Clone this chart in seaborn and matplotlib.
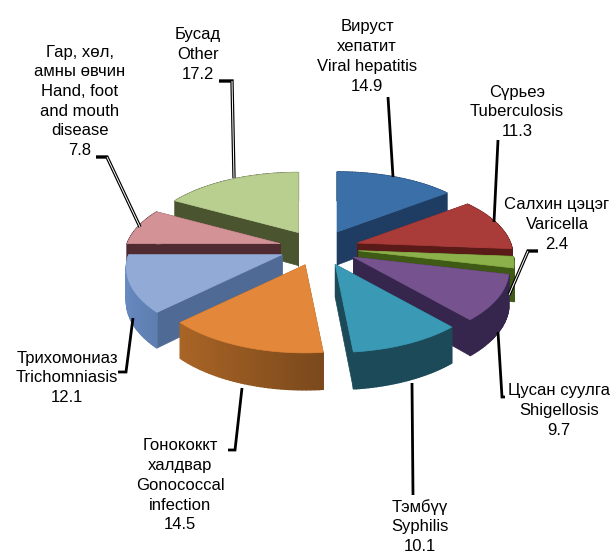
import numpy as np
import matplotlib
matplotlib.use("Agg")
import matplotlib.pyplot as plt
import seaborn as sns

# share of each disease, clockwise from 12 o'clock
labels = [
    ["Вируст", "хепатит", "Viral hepatitis"],
    ["Сүрьеэ", "Tuberculosis"],
    ["Салхин цэцэг", "Varicella"],
    ["Цусан суулга", "Shigellosis"],
    ["Тэмбүү", "Syphilis"],
    ["Гонококкт", "халдвар", "Gonococcal", "infection"],
    ["Трихомониаз", "Trichomniasis"],
    ["Гар, хөл,", "амны өвчин", "Hand, foot", "and mouth", "disease"],
    ["Бусад", "Other"],
]
values = [14.9, 11.3, 2.4, 9.7, 10.1, 14.5, 12.1, 7.8, 17.2]

top_colors = ["#3a6fa8", "#a93b39", "#8cb04a", "#76528f", "#3a9ab6",
              "#e3873a", "#92abd6", "#d39296", "#b9cf90"]
wall_colors = ["#1f3d63", "#5a1a18", "#3f5a14", "#36264d", "#1c4a58",
               "#8f5520", "#4f6a94", "#4f2a30", "#4a5530"]

sns.set_theme(style="white")
plt.rcParams["font.family"] = ["Liberation Sans", "DejaVu Sans"]
palette = sns.color_palette(top_colors)
walls = sns.color_palette(wall_colors)

# layout, in pixels of the output
cx, cy = 319, 248
line_step = 19.7
label_pos = [(367, 27), (517, 92), (557, 205), (559, 391), (420, 507),
             (180, 446), (67, 358), (80, 52), (198, 35)]
leaders = [
    ([388, 393], [97, 177], False),
    ([498, 494], [140, 222], False),
    ([538, 528, 509], [251, 251, 295], True),
    ([498, 502, 505], [332, 397, 397], False),
    ([412, 413], [383, 495], False),
    ([242, 235, 228], [388, 450, 450], False),
    ([133, 126, 118], [318, 372, 372], False),
    ([96, 107, 140], [157, 157, 227], True),
    ([219, 232, 234], [81, 81, 178], True),
]


def project(theta):
    # ellipse with a little perspective, front of the pie is larger
    c, s = np.cos(theta), np.sin(theta)
    return s * (153 - 28 * c), -c * (74 - 14 * c)


def shade(color, factor):
    return tuple(min(1, v * factor) for v in color)


fig, ax = plt.subplots(figsize=(6.16, 5.53), dpi=100)
ax.set_xlim(0, 616)
ax.set_ylim(553, 0)
ax.axis("off")
fig.subplots_adjust(0, 0, 1, 1)

edges = np.radians(np.concatenate([[0], np.cumsum(values)]) * 3.6)
mids = (edges[:-1] + edges[1:]) / 2

# back slices first so the front ones sit on top of their walls
for i in np.argsort(-np.cos(mids)):
    ax0 = cx + 40 * np.sin(mids[i])
    ay0 = cy - 18 * np.cos(mids[i])
    th = np.linspace(edges[i], edges[i + 1], 40)
    px, py = project(th)
    px, py = ax0 + px, ay0 + py
    depth = 33 - 4 * np.cos(th)

    # the two cut faces
    for k in (0, -1):
        ax.fill([ax0, px[k], px[k], ax0],
                [ay0, py[k], py[k] + depth[k], ay0 + 33],
                color=walls[i], lw=0.5, zorder=2)

    # rim, only orange and blue pick up light from the left
    for j in range(len(th) - 1):
        light = 0.9 - 0.4 * np.sin(th[j]) if i in (5, 6) else 1.0
        c = shade(walls[i], light)
        ax.fill([px[j], px[j + 1], px[j + 1], px[j]],
                [py[j], py[j + 1], py[j + 1] + depth[j + 1], py[j] + depth[j]],
                color=c, ec=c, lw=1, zorder=2)

    ax.fill(np.r_[ax0, px], np.r_[ay0, py], color=palette[i], lw=0.5, zorder=2)

for (lx, ly), lines, val in zip(label_pos, labels, values):
    for n, line in enumerate(lines + [f"{val}"]):
        ax.text(lx, ly + n * line_step, line, ha="center", va="center",
                fontsize=12, color="black", zorder=5)

for xs, ys, double in leaders:
    ax.plot(xs, ys, color="black", lw=2.0 if not double else 2.4, zorder=4,
            solid_joinstyle="miter", solid_capstyle="butt")
    if double:
        ax.plot(xs[1:], ys[1:], color="white", lw=0.7, zorder=4,
                solid_capstyle="butt")

fig.savefig("out.png", dpi=100)
